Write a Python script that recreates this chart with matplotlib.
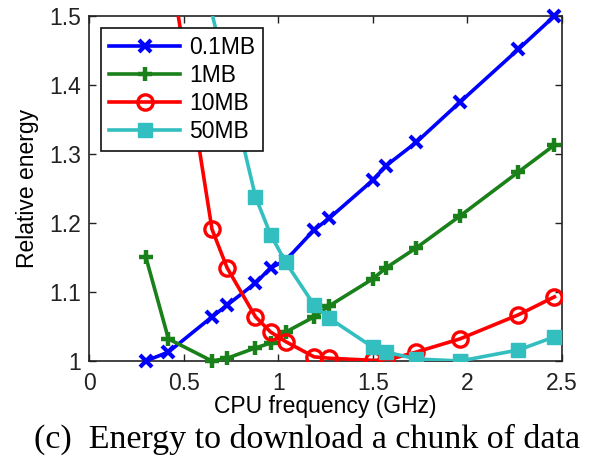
import matplotlib

matplotlib.use("Agg")

import matplotlib.pyplot as plt
from matplotlib.ticker import FuncFormatter

# CPU frequencies (GHz) and relative energy per chunk size
freq_all = [0.30, 0.42, 0.65, 0.73, 0.88, 0.96, 1.04, 1.19, 1.27, 1.50, 1.57, 1.73, 1.96, 2.27, 2.46]
freq_10mb = freq_all[1:]
freq_50mb = [0.42] + freq_all[4:]

energy_01mb = [1.000, 1.013, 1.064, 1.081, 1.113, 1.135, 1.146, 1.190, 1.207, 1.262, 1.283, 1.317, 1.375, 1.452, 1.500]
energy_1mb = [1.151, 1.032, 1.000, 1.004, 1.019, 1.026, 1.042, 1.064, 1.080, 1.119, 1.135, 1.164, 1.210, 1.274, 1.313]
energy_10mb = [1.590, 1.191, 1.135, 1.064, 1.042, 1.028, 1.006, 1.004, 1.001, 1.001, 1.013, 1.032, 1.067, 1.093]
energy_50mb = [1.770, 1.238, 1.183, 1.143, 1.081, 1.062, 1.020, 1.013, 1.003, 1.000, 1.016, 1.035]

labels = ["0.1MB", "1MB", "10MB", "50MB"]
x_ticks = [0, 0.5, 1, 1.5, 2, 2.5]
y_ticks = [1.0, 1.1, 1.2, 1.3, 1.4, 1.5]

BLUE = "#0000ff"
GREEN = "#1a801a"
RED = "#ff0000"
CYAN = "#33bfbf"

plt.rcParams["font.family"] = ["Liberation Sans", "DejaVu Sans"]

fig = plt.figure(figsize=(6.02, 4.58), dpi=100)
ax = fig.add_axes([89 / 602, 1 - 361 / 458, (562 - 89) / 602, (361 - 16) / 458])

ax.plot(freq_all, energy_01mb, color=BLUE, lw=2.6, marker="x", ms=8, mew=3,
        label=labels[0], clip_on=False, zorder=3)
ax.plot(freq_all, energy_1mb, color=GREEN, lw=2.6, marker="+", ms=10, mew=3.2,
        label=labels[1], clip_on=False, zorder=3)
ax.plot(freq_10mb, energy_10mb, color=RED, lw=2.6, marker="o", ms=11, mew=2.4,
        mfc="none", label=labels[2], zorder=3)
ax.plot(freq_50mb, energy_50mb, color=CYAN, lw=2.6, marker="s", ms=10,
        mec=CYAN, mfc=CYAN, label=labels[3], zorder=3)

ax.set_xlim(0, 2.5)
ax.set_ylim(1.0, 1.5)
ax.set_xticks(x_ticks)
ax.set_yticks(y_ticks)
ax.xaxis.set_major_formatter(FuncFormatter(lambda v, _: f"{v:g}"))
ax.yaxis.set_major_formatter(FuncFormatter(lambda v, _: f"{v:g}"))
ax.tick_params(direction="in", length=5, width=1, top=True, right=True,
               labelsize=16.5, colors="#222222")
ax.tick_params(axis="x", pad=8)
ax.tick_params(axis="y", pad=6)
for spine in ax.spines.values():
    spine.set_color("#222222")
    spine.set_linewidth(1.2)

ax.set_xlabel("CPU frequency (GHz)", fontsize=16.5, labelpad=0)
ax.set_ylabel("Relative energy", fontsize=16.5, labelpad=7)

leg = ax.legend(loc="upper left", bbox_to_anchor=((101 - 89) / 473, (361 - 28) / 345),
                fontsize=16.5, fancybox=False, edgecolor="#111111", framealpha=1,
                borderpad=0.35, labelspacing=0.22, handlelength=3.1, handletextpad=0.4,
                borderaxespad=0)
leg.get_frame().set_linewidth(1.2)

fig.text(0.5 + 6 / 602, 1 - 439 / 458, "(c)  Energy to download a chunk of data",
         ha="center", va="center", fontsize=24.5, family=["Liberation Serif", "DejaVu Serif"])

fig.savefig("out.png", dpi=100)
